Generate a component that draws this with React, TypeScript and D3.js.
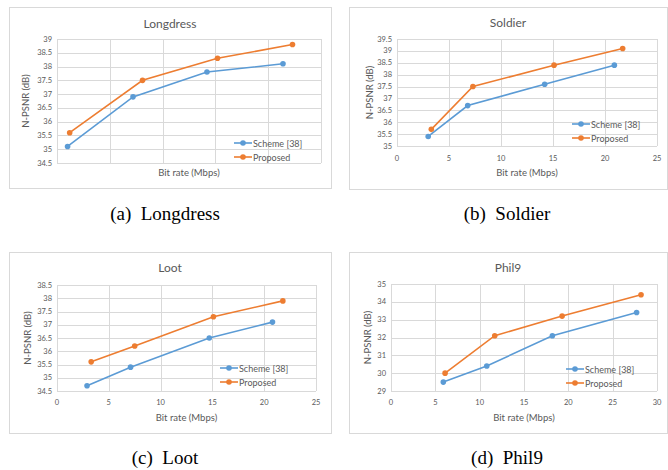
import React from 'react';
import * as d3 from 'd3';

// values (bit rate in Mbps, N-PSNR in dB)
const longdressSchemeRate = [1.0, 7.2, 14.2, 21.4];
const longdressSchemePsnr = [35.1, 36.9, 37.8, 38.1];
const longdressProposedRate = [1.2, 8.1, 15.2, 22.3];
const longdressProposedPsnr = [35.6, 37.5, 38.3, 38.8];

const soldierSchemeRate = [3.0, 6.8, 14.2, 20.9];
const soldierSchemePsnr = [35.4, 36.7, 37.6, 38.4];
const soldierProposedRate = [3.3, 7.3, 15.1, 21.7];
const soldierProposedPsnr = [35.7, 37.5, 38.4, 39.1];

const lootSchemeRate = [2.9, 7.1, 14.7, 20.8];
const lootSchemePsnr = [34.7, 35.4, 36.5, 37.1];
const lootProposedRate = [3.3, 7.5, 15.1, 21.8];
const lootProposedPsnr = [35.6, 36.2, 37.3, 37.9];

const phil9SchemeRate = [5.9, 10.8, 18.2, 27.7];
const phil9SchemePsnr = [29.5, 30.4, 32.1, 33.4];
const phil9ProposedRate = [6.1, 11.7, 19.3, 28.2];
const phil9ProposedPsnr = [30.0, 32.1, 33.2, 34.4];

const longdressYTicks = [34.5, 35, 35.5, 36, 36.5, 37, 37.5, 38, 38.5, 39];
const soldierYTicks = [35, 35.5, 36, 36.5, 37, 37.5, 38, 38.5, 39, 39.5];
const lootYTicks = [34.5, 35, 35.5, 36, 36.5, 37, 37.5, 38, 38.5];
const phil9YTicks = [29, 30, 31, 32, 33, 34, 35];
const rateTicks25 = [0, 5, 10, 15, 20, 25];
const rateTicks30 = [0, 5, 10, 15, 20, 25, 30];

const seriesNames = ['Scheme [38]', 'Proposed'];
const seriesColors = ['#5b9bd5', '#ed7d31'];

const FONT = 'Lato, "Open Sans", sans-serif';
const TEXT = '#595959';
const GRID = '#d9d9d9';

type PanelProps = {
  title: string;
  caption: string;
  frame: [number, number, number, number];
  plot: [number, number, number, number];
  xTicks: number[];
  yTicks: number[];
  showXLabels: boolean;
  rates: number[][];
  psnrs: number[][];
  titleY: number;
  yLabelX: number;
  xLabelY: number;
  xTickY: number;
  legend: [number, number];
  captionPos: [number, number];
};

const fmt = (v: number) => (Number.isInteger(v) ? String(v) : v.toFixed(1));

const Panel = (p: PanelProps) => {
  const [fx0, fy0, fx1, fy1] = p.frame;
  const [left, right, top, bottom] = p.plot;
  const x = d3.scaleLinear().domain(d3.extent(p.xTicks) as [number, number]).range([left, right]);
  const y = d3.scaleLinear().domain(d3.extent(p.yTicks) as [number, number]).range([bottom, top]);
  const line = d3.line<[number, number]>().x((d) => x(d[0])).y((d) => y(d[1]));

  return (
    <g>
      <rect x={fx0 + 0.5} y={fy0 + 0.5} width={fx1 - fx0} height={fy1 - fy0} fill="#fff" stroke={GRID} />
      <text x={(fx0 + fx1) / 2} y={p.titleY} textAnchor="middle" dominantBaseline="central"
        fontFamily={FONT} fontSize={12} fill={TEXT}>{p.title}</text>

      {p.yTicks.map((t) => (
        <g key={'y' + t}>
          <line x1={left} x2={right} y1={Math.round(y(t)) + 0.5} y2={Math.round(y(t)) + 0.5} stroke={GRID} />
          <text x={left - 5} y={y(t)} textAnchor="end" dominantBaseline="central"
            fontFamily={FONT} fontSize={7.5} fill={TEXT}>{fmt(t)}</text>
        </g>
      ))}
      {p.xTicks.map((t) => (
        <g key={'x' + t}>
          <line x1={Math.round(x(t)) + 0.5} x2={Math.round(x(t)) + 0.5} y1={top} y2={bottom} stroke={GRID} />
          {p.showXLabels && (
            <text x={x(t)} y={p.xTickY} textAnchor="middle" dominantBaseline="central"
              fontFamily={FONT} fontSize={7.5} fill={TEXT}>{t}</text>
          )}
        </g>
      ))}

      <text transform={`translate(${p.yLabelX},${(top + bottom) / 2}) rotate(-90)`} textAnchor="middle"
        dominantBaseline="central" fontFamily={FONT} fontSize={9.5} fill={TEXT}>N-PSNR (dB)</text>
      <text x={(left + right) / 2} y={p.xLabelY} textAnchor="middle" dominantBaseline="central"
        fontFamily={FONT} fontSize={9.5} fill={TEXT}>Bit rate (Mbps)</text>

      {p.rates.map((r, i) => {
        const pts = r.map((v, j) => [v, p.psnrs[i][j]] as [number, number]);
        return (
          <g key={'s' + i}>
            <path d={line(pts) || ''} fill="none" stroke={seriesColors[i]} strokeWidth={1.6} />
            {pts.map((d, j) => (
              <circle key={j} cx={x(d[0])} cy={y(d[1])} r={2.8} fill={seriesColors[i]} />
            ))}
          </g>
        );
      })}

      {seriesNames.map((name, i) => {
        const ly = p.legend[1] + i * 14;
        return (
          <g key={name}>
            <line x1={p.legend[0]} x2={p.legend[0] + 18} y1={ly} y2={ly} stroke={seriesColors[i]} strokeWidth={1.6} />
            <circle cx={p.legend[0] + 9} cy={ly} r={2.8} fill={seriesColors[i]} />
            <text x={p.legend[0] + 19} y={ly} dominantBaseline="central"
              fontFamily={FONT} fontSize={9} fill={TEXT}>{name}</text>
          </g>
        );
      })}

      <text x={p.captionPos[0]} y={p.captionPos[1]} textAnchor="middle" dominantBaseline="central"
        fontFamily='"Liberation Serif", "Times New Roman", serif' fontSize={19} fill="#000">{p.caption}</text>
    </g>
  );
};

const App = () => {
  return (
    <svg width={668} height={470} style={{ position: 'absolute', left: 0, top: 0, background: '#fff' }}>
      <Panel title="Longdress" caption={'(a)\u2002Longdress'} frame={[9, 7, 331, 188]} plot={[57, 321, 39, 163]}
        xTicks={rateTicks25} yTicks={longdressYTicks} showXLabels={false}
        rates={[longdressSchemeRate, longdressProposedRate]} psnrs={[longdressSchemePsnr, longdressProposedPsnr]}
        titleY={23} yLabelX={25} xLabelY={172} xTickY={174} legend={[234, 143]} captionPos={[165, 213]} />
      <Panel title="Soldier" caption={'(b)\u2002Soldier'} frame={[349, 7, 667, 189]} plot={[397, 657, 39, 146]}
        xTicks={rateTicks25} yTicks={soldierYTicks} showXLabels={true}
        rates={[soldierSchemeRate, soldierProposedRate]} psnrs={[soldierSchemePsnr, soldierProposedPsnr]}
        titleY={22} yLabelX={369} xLabelY={172} xTickY={158} legend={[572, 124]} captionPos={[507, 213]} />
      <Panel title="Loot" caption={'(c)\u2002Loot'} frame={[9, 252, 331, 433]} plot={[57, 316, 285, 391]}
        xTicks={rateTicks25} yTicks={lootYTicks} showXLabels={true}
        rates={[lootSchemeRate, lootProposedRate]} psnrs={[lootSchemePsnr, lootProposedPsnr]}
        titleY={267} yLabelX={27} xLabelY={417} xTickY={402} legend={[220, 368]} captionPos={[165, 457]} />
      <Panel title="Phil9" caption={'(d)\u2002Phil9'} frame={[349, 252, 667, 433]} plot={[391, 657, 284, 391]}
        xTicks={rateTicks30} yTicks={phil9YTicks} showXLabels={true}
        rates={[phil9SchemeRate, phil9ProposedRate]} psnrs={[phil9SchemePsnr, phil9ProposedPsnr]}
        titleY={267} yLabelX={367} xLabelY={417} xTickY={402} legend={[566, 369]} captionPos={[507, 457]} />
    </svg>
  );
};

export default App;
